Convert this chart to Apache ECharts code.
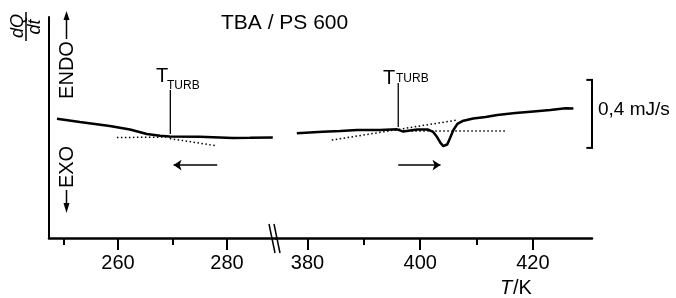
<!DOCTYPE html>
<html><head><meta charset="utf-8">
<script src="https://cdn.jsdelivr.net/npm/echarts@6/dist/echarts.min.js"></script>
<style>html,body{margin:0;padding:0;background:#fff}#c{width:676px;height:298px}</style>
</head><body><div id="c"></div>
<script>
// ---- data (T in K, heat flow dQ/dt in mJ/s, arbitrary zero) ----
var leftT  = [248.8, 253.0, 258.5, 262.2, 265.3, 267.7, 269.5, 275.0, 281.1, 284.2, 288.4];
var leftY  = [0.701, 0.682, 0.659, 0.638, 0.612, 0.601, 0.597, 0.595, 0.588, 0.589, 0.591];
var rightT = [378.1, 380.4, 382.7, 385.8, 388.8, 392.9, 395.9, 397.0, 398.2, 399.5, 401.4, 402.3, 403.0, 403.6, 404.1, 404.8, 405.3, 405.9, 406.6, 407.5, 409.4, 411.6, 413.7, 416.9, 419.6, 423.1, 425.8, 427.2];
var rightY = [0.616, 0.621, 0.625, 0.629, 0.635, 0.636, 0.639, 0.626, 0.632, 0.638, 0.638, 0.624, 0.594, 0.559, 0.541, 0.550, 0.588, 0.635, 0.671, 0.688, 0.703, 0.712, 0.724, 0.735, 0.743, 0.753, 0.763, 0.762];
var leftBaseT = [259.8, 269.5], leftBaseY = [0.591, 0.594];
var leftTanT  = [269.5, 277.8], leftTanY  = [0.585, 0.544];
var rightTanT = [384.3, 406.6], rightTanY = [0.576, 0.694];
var rightBaseT = [397.0, 415.1], rightBaseY = [0.629, 0.629];
var turbLeftT = 269.6, turbLeftY = [0.612, 0.871];
var turbRightT = 396.1, turbRightY = [0.653, 0.912];
var coolArrowT = [278.2, 270.2], heatArrowT = [396.1, 403.6], arrowY = 0.429;
var scaleBarT = 430.5, scaleBarY = [0.53, 0.93], scaleBarLabel = '0,4 mJ/s';
var leftMajor = [260, 280], leftMinor = [250, 270];
var rightMajor = [380, 400, 420], rightMinor = [390, 410];
var title = 'TBA / PS 600';

function zip(a, b) { return a.map(function (v, i) { return [v, b[i]]; }); }
var FONT = '"Liberation Sans", Arial, sans-serif';

function majorAxis(grid, min, max, ticks) {
  return { type: 'value', gridIndex: grid, min: min, max: max, position: 'bottom',
    axisLine: { show: true, lineStyle: { color: '#000', width: 2.5 } },
    axisTick: { show: true, customValues: ticks, length: 12, inside: false, lineStyle: { color: '#000', width: 2 } },
    axisLabel: { show: true, customValues: ticks, margin: 15, color: '#000', fontSize: 20, fontFamily: FONT },
    splitLine: { show: false } };
}
function minorAxis(grid, min, max, ticks) {
  return { type: 'value', gridIndex: grid, min: min, max: max, position: 'bottom',
    axisLine: { show: false },
    axisTick: { show: true, customValues: ticks, length: 7, lineStyle: { color: '#000', width: 2 } },
    axisLabel: { show: false }, splitLine: { show: false } };
}
function lineS(xi, data, opts) {
  return Object.assign({ type: 'line', xAxisIndex: xi, yAxisIndex: xi < 2 ? 0 : 1, data: data,
    symbol: 'none', silent: true, clip: false, animation: false,
    lineStyle: { color: '#000', width: 2.5 } }, opts || {});
}
var dotted = { lineStyle: { color: '#000', width: 1.5, type: [1.5, 2.5] } };
var thin = { lineStyle: { color: '#000', width: 1.3 } };

var chart = echarts.init(document.getElementById('c'), null, { renderer: 'canvas' });
chart.setOption({
  animation: false,
  backgroundColor: '#fff',
  title: { text: title, left: 216, top: 8, textStyle: { fontSize: 21, fontWeight: 'normal', color: '#000', fontFamily: FONT } },
  grid: [
    { left: 49, top: 17, width: 227, height: 221 },
    { left: 276, top: 17, width: 316, height: 221 }
  ],
  xAxis: [
    majorAxis(0, 247.34, 288.99, leftMajor),
    minorAxis(0, 247.34, 288.99, leftMinor),
    majorAxis(1, 374.4, 430.5, rightMajor),
    minorAxis(1, 374.4, 430.5, rightMinor)
  ],
  yAxis: [
    { type: 'value', gridIndex: 0, min: 0, max: 1.3, axisLine: { show: true, lineStyle: { color: '#000', width: 2 } },
      axisTick: { show: false }, axisLabel: { show: false }, splitLine: { show: false } },
    { type: 'value', gridIndex: 1, min: 0, max: 1.3, show: false, splitLine: { show: false } }
  ],
  series: [
    lineS(0, zip(leftT, leftY)),
    lineS(2, zip(rightT, rightY)),
    lineS(0, zip(leftBaseT, leftBaseY), dotted),
    lineS(0, zip(leftTanT, leftTanY), dotted),
    lineS(2, zip(rightTanT, rightTanY), dotted),
    lineS(2, zip(rightBaseT, rightBaseY), dotted),
    lineS(0, [[turbLeftT, turbLeftY[0]], [turbLeftT, turbLeftY[1]]], thin),
    lineS(2, [[turbRightT, turbRightY[0]], [turbRightT, turbRightY[1]]], thin),
    lineS(2, [[scaleBarT, scaleBarY[0]], [scaleBarT, scaleBarY[1]]], { lineStyle: { color: '#000', width: 2 } }),
    lineS(2, [[scaleBarT - 1, scaleBarY[0]], [scaleBarT + 1, scaleBarY[0]]], { lineStyle: { color: '#000', width: 2 } }),
    lineS(2, [[scaleBarT - 1, scaleBarY[1]], [scaleBarT + 1, scaleBarY[1]]], { lineStyle: { color: '#000', width: 2 } }),
    { type: 'lines', coordinateSystem: 'cartesian2d', xAxisIndex: 0, yAxisIndex: 0, silent: true, animation: false,
      symbol: ['none', 'arrow'], symbolSize: [6, 8], lineStyle: { color: '#000', width: 1.5, opacity: 1 },
      data: [{ coords: [[coolArrowT[0], arrowY], [coolArrowT[1], arrowY]] }] },
    { type: 'lines', coordinateSystem: 'cartesian2d', xAxisIndex: 2, yAxisIndex: 1, silent: true, animation: false,
      symbol: ['none', 'arrow'], symbolSize: [6, 8], lineStyle: { color: '#000', width: 1.5, opacity: 1 },
      data: [{ coords: [[heatArrowT[0], arrowY], [heatArrowT[1], arrowY]] }] }
  ],
  graphic: [
    // axis break marks
    { type: 'line', shape: { x1: 269, y1: 224, x2: 275, y2: 253 }, style: { stroke: '#000', lineWidth: 1.5 } },
    { type: 'line', shape: { x1: 274, y1: 224, x2: 280, y2: 253 }, style: { stroke: '#000', lineWidth: 1.5 } },
    // dQ/dt
    { type: 'text', x: 18, y: 26, rotation: Math.PI / 2, style: { text: 'dQ', font: 'italic 18px ' + FONT, fill: '#000', align: 'center', verticalAlign: 'middle' } },
    { type: 'line', shape: { x1: 26, y1: 12, x2: 26, y2: 41 }, style: { stroke: '#000', lineWidth: 1.5 } },
    { type: 'text', x: 35, y: 27, rotation: Math.PI / 2, style: { text: 'dt', font: 'italic 18px ' + FONT, fill: '#000', align: 'center', verticalAlign: 'middle' } },
    // ENDO / EXO
    { type: 'text', x: 67, y: 70, rotation: Math.PI / 2, style: { text: 'ENDO', font: '20px ' + FONT, fill: '#000', align: 'center', verticalAlign: 'middle' } },
    { type: 'line', shape: { x1: 66.5, y1: 18, x2: 66.5, y2: 39 }, style: { stroke: '#000', lineWidth: 1.5 } },
    { type: 'polygon', shape: { points: [[66.5, 11], [63.5, 20], [69.5, 20]] }, style: { fill: '#000' } },
    { type: 'text', x: 67, y: 167, rotation: Math.PI / 2, style: { text: 'EXO', font: '20px ' + FONT, fill: '#000', align: 'center', verticalAlign: 'middle' } },
    { type: 'line', shape: { x1: 66.5, y1: 190, x2: 66.5, y2: 205 }, style: { stroke: '#000', lineWidth: 1.5 } },
    { type: 'polygon', shape: { points: [[66.5, 213], [63.5, 203], [69.5, 203]] }, style: { fill: '#000' } },
    // T_TURB labels
    { type: 'text', x: 156, y: 66, style: { text: 'T', font: '20px ' + FONT, fill: '#000' } },
    { type: 'text', x: 167, y: 80, style: { text: 'TURB', font: '12px ' + FONT, fill: '#000' } },
    { type: 'text', x: 383, y: 68, style: { text: 'T', font: '20px ' + FONT, fill: '#000' } },
    { type: 'text', x: 396, y: 73, style: { text: 'TURB', font: '12px ' + FONT, fill: '#000' } },
    // scale bar label
    { type: 'text', x: 598, y: 110, style: { text: scaleBarLabel, font: '19px ' + FONT, fill: '#000', verticalAlign: 'middle' } },
    // axis name
    { type: 'text', x: 500, y: 278, style: { text: 'T', font: 'italic 20px ' + FONT, fill: '#000' } },
    { type: 'text', x: 513, y: 278, style: { text: '/K', font: '20px ' + FONT, fill: '#000' } }
  ]
});
</script></body></html>
